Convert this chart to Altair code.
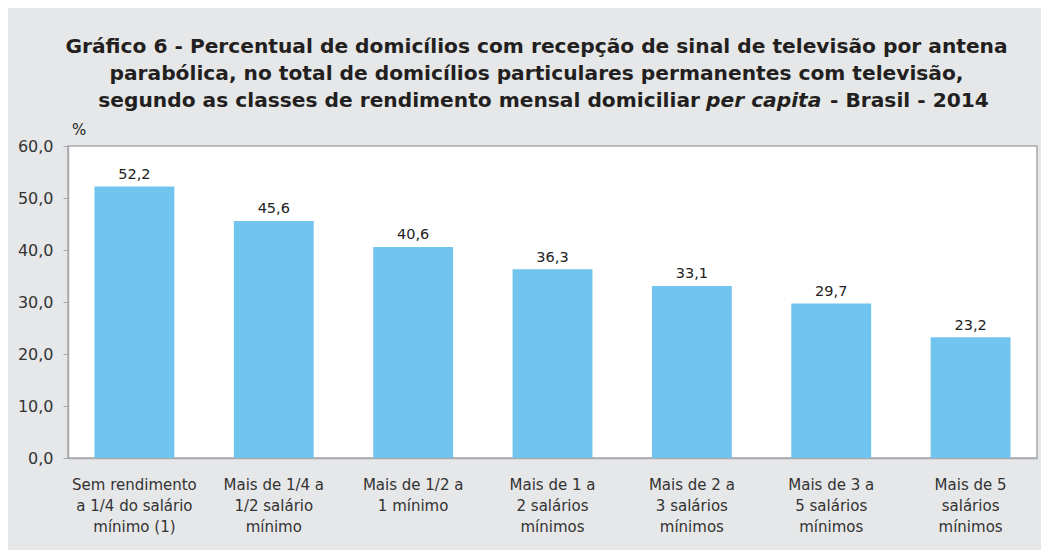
import altair as alt
import pandas as pd

categories = [
    "Sem rendimento\na 1/4 do salário\nmínimo (1)",
    "Mais de 1/4 a\n1/2 salário\nmínimo",
    "Mais de 1/2 a\n1 mínimo",
    "Mais de 1 a\n2 salários\nmínimos",
    "Mais de 2 a\n3 salários\nmínimos",
    "Mais de 3 a\n5 salários\nmínimos",
    "Mais de 5\nsalários\nmínimos",
]
values = [52.2, 45.6, 40.6, 36.3, 33.1, 29.7, 23.2]

title_line1 = "Gráfico 6 - Percentual de domicílios com recepção de sinal de televisão por antena"
title_line2 = "parabólica, no total de domicílios particulares permanentes com televisão,"
title_line3a = "segundo as classes de rendimento mensal domiciliar"
title_line3b = "per capita"
title_line3c = "- Brasil - 2014"
unit_label = "%"

df = pd.DataFrame({"cat": categories, "val": values})

W, H = 969, 312
FONT = "DejaVu Sans"
BAR = "#70c4ee"
TXT = "#231f20"
GRAY = "#a7a9ac"

x = alt.X("cat:N", sort=categories,
          scale=alt.Scale(paddingInner=0.427, paddingOuter=0.19),
          axis=alt.Axis(title=None, labelAngle=0, labelExpr="split(datum.label, '\\n')",
                        labelFontSize=15, labelColor="#333333", labelFont=FONT,
                        labelLineHeight=21, labelPadding=19, ticks=False,
                        domainColor=GRAY, domainWidth=1.5, labelBaseline="top"))
y = alt.Y("val:Q", scale=alt.Scale(domain=[0, 60]),
          axis=alt.Axis(title=None, values=[0, 10, 20, 30, 40, 50, 60],
                        labelExpr="replace(format(datum.value, '.1f'), '.', ',')",
                        labelFontSize=16, labelColor="#333333", labelFont=FONT,
                        tickSize=5, tickColor=GRAY, labelPadding=10,
                        domainColor=GRAY, domainWidth=1.5, grid=False))

base = alt.Chart(df)
bars = base.mark_bar(color=BAR).encode(x=x, y=y)
labels = base.transform_calculate(
    lab="replace(format(datum.val, '.1f'), '.', ',')"
).mark_text(baseline="bottom", dy=-4.5, fontSize=14.5, font=FONT, color="#222222").encode(
    x=alt.X("cat:N", sort=categories), y="val:Q", text="lab:N")

def txt(s, xv, yv, align, baseline="alphabetic", **kw):
    return alt.Chart(pd.DataFrame({"t": [s]})).mark_text(
        align=align, baseline=baseline, font=FONT, color=TXT, **kw
    ).encode(text="t:N", x=alt.value(xv), y=alt.value(yv))

TS = 20.2
t1 = txt(title_line1, 468.5, -93, "center", fontSize=TS, fontWeight="bold")
t2 = txt(title_line2, 468.5, -66, "center", fontSize=TS, fontWeight="bold")
t3a = txt(title_line3a, 632, -39, "right", fontSize=TS, fontWeight="bold")
t3b = txt(title_line3b, 638, -39, "left", fontSize=TS, fontWeight="bold", fontStyle="italic")
t3c = txt(title_line3c, 762, -39, "left", fontSize=TS, fontWeight="bold")
pct = txt(unit_label, 4, -16, "left", baseline="middle", fontSize=15)

chart = alt.layer(bars, labels, t1, t2, t3a, t3b, t3c, pct).properties(
    width=W, height=H,
    background="#e6e7e8",
    autosize=alt.AutoSizeParams(type="none"),
    padding={"left": 60, "top": 138, "right": 4, "bottom": 92},
).configure_view(stroke=GRAY, fill="white", strokeWidth=1.5)

chart.save("out.html", embed_options={"renderer": "svg", "actions": False})
